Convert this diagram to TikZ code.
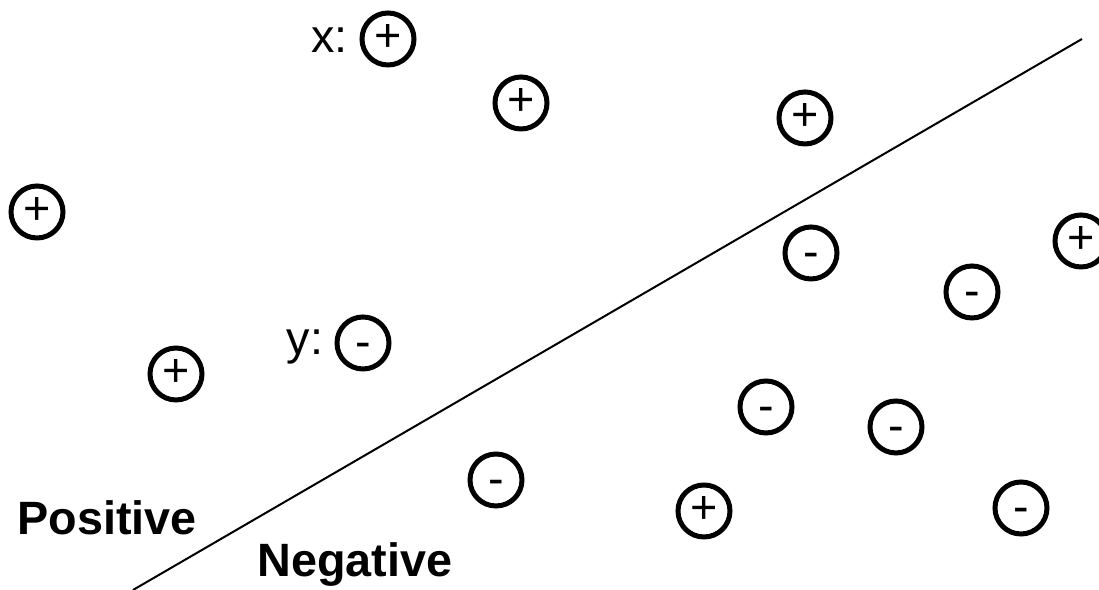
\documentclass[tikz,border=0pt]{standalone}
\usepackage{fontspec}
\setmainfont{Liberation Sans}
\usepackage{tikz}

\begin{document}
\begin{tikzpicture}[pt/.style={circle, draw, line width=0.05cm, minimum size=0.52cm, inner sep=0pt, text height=0.72em, text depth=0pt, font=\fontsize{13.3}{16}\selectfont},
  mt/.style={pt, text height=0.85em},
  lbl/.style={anchor=base, inner sep=0pt, font=\fontsize{13.3}{16}\selectfont}]

  \useasboundingbox (0,0) rectangle (10.99,-5.90);

  % Define nodes
  \node[pt] (X) at (3.88, -0.39) {+};
  \node[pt] (p1) at (5.21, -1.03) {+};
  \node[pt] (p2) at (8.05, -1.18) {+};
  \node[pt] (p3) at (0.37, -2.12) {+};
  \node[pt] (p4) at (10.81, -2.41) {+};
  \node[pt] (p5) at (1.76, -3.74) {+};
  \node[pt] (p6) at (7.04, -5.11) {+};

  \node[mt] (m1) at (8.11, -2.53) {-};
  \node[mt] (m2) at (9.72, -2.92) {-};
  \node[mt] (Y) at (3.63, -3.43) {-};
  \node[mt] (m3) at (7.66, -4.07) {-};
  \node[mt] (m4) at (8.96, -4.27) {-};
  \node[mt] (m5) at (4.96, -4.80) {-};
  \node[mt] (m6) at (10.21, -5.08) {-};

  % Add labels
  \node[lbl] (xl) at (3.295, -0.527) {x:};
  \node[lbl] (yl) at (3.05, -3.55) {y:};
  \node[lbl] (pos) at (1.07, -5.35) {\bfseries Positive};
  \node[lbl] (neg) at (3.55, -5.77) {\bfseries Negative};

  % Draw separator
  \coordinate (lo) at (1.33, -5.90);
  \coordinate (hi) at (10.82, -0.39);
  \draw[line width=0.02cm] (lo) -- (hi);
\end{tikzpicture}
\end{document}
